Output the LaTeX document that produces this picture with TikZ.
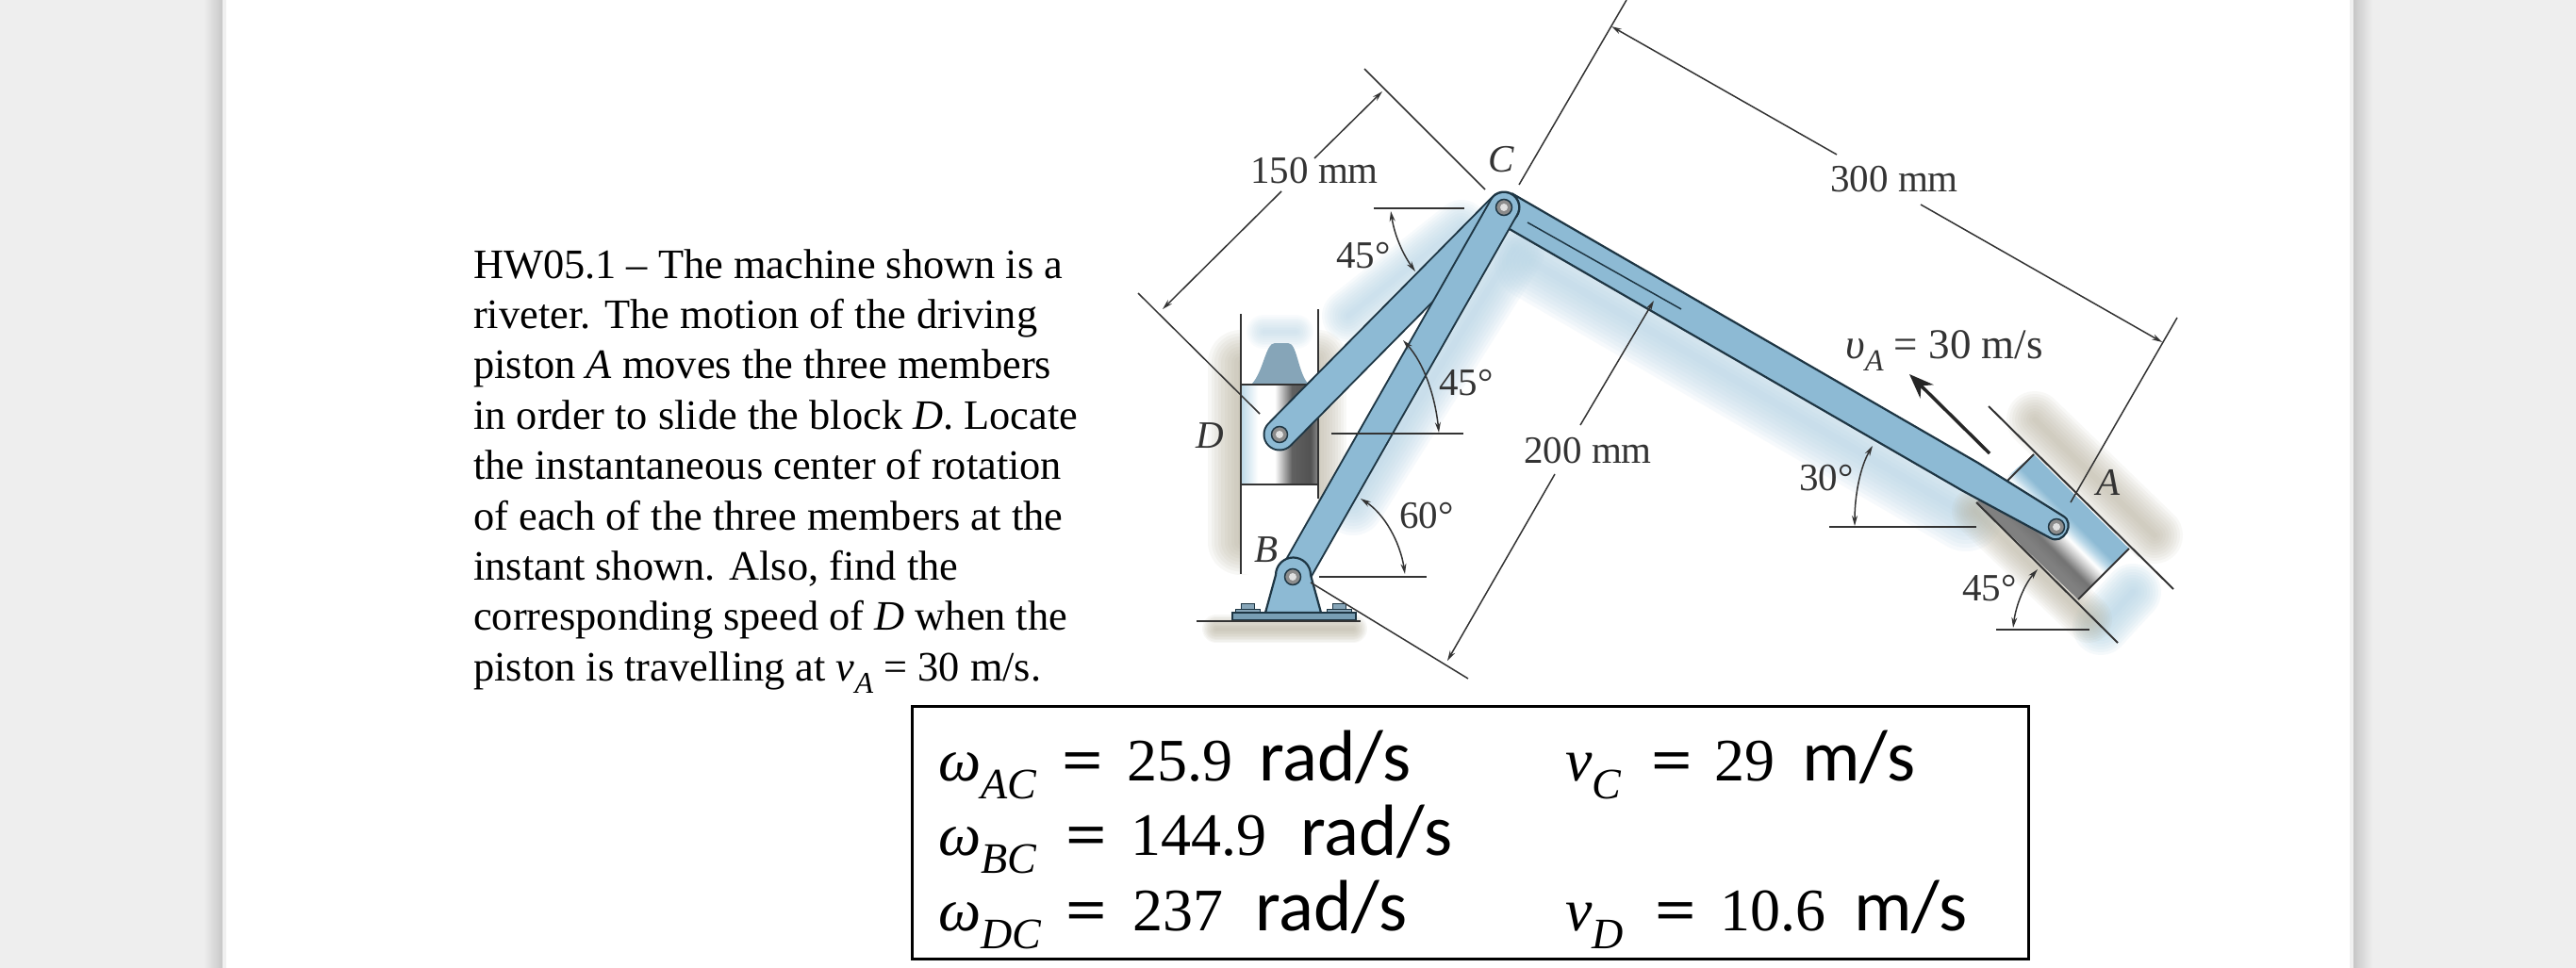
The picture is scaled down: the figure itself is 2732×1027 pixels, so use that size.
\documentclass[tikz,border=0pt]{standalone}
\usepackage{fontspec}
\usepackage{graphicx}
\setmainfont{Liberation Serif}
\newfontfamily\calib{Carlito}
\usetikzlibrary{arrows.meta,calc}
\definecolor{pagegray}{HTML}{EEEEEE}
\definecolor{linkblue}{HTML}{8DBAD4}
\definecolor{linkedge}{HTML}{1E3644}
\definecolor{washblue}{HTML}{BBD8E8}
\definecolor{washtan}{HTML}{B9B39F}
\definecolor{inkgray}{HTML}{333333}
\definecolor{capblue}{HTML}{86A5B8}
\pgfdeclarehorizontalshading{blocksh}{100bp}{
 color(0bp)=(washblue);color(25bp)=(washblue);color(36bp)=(white);color(47bp)=(white);
 color(58bp)=(black!62);color(70bp)=(black!68);color(75bp)=(black!45);color(100bp)=(black!45)}
\pgfdeclarehorizontalshading{pistonsh}{100bp}{
 color(0bp)=(black!50);color(41bp)=(black!50);color(44.6bp)=(black!55);color(48.2bp)=(black!22);
 color(50.9bp)=(white);color(53.6bp)=(washblue);color(56.3bp)=(linkblue);color(100bp)=(linkblue)}
\tikzset{
 x=1pt,y=-1pt,
 dimline/.style={draw=inkgray,line width=1.5pt},
 dimarrow/.style={dimline,{Stealth[length=11pt,width=6pt]}-{Stealth[length=11pt,width=6pt]}},
 dimtip/.style={dimline,-{Stealth[length=11pt,width=6pt]}},
 lab/.style={text=inkgray,font=\fontsize{41}{41}\selectfont,inner sep=0pt},
 labit/.style={lab,font=\fontsize{41}{41}\selectfont\itshape},
 wall/.style={draw=black!80,line width=2pt},
 edgeline/.style={draw=linkedge,line width=2.2pt,line join=round},
 pinout/.style={fill=black!45,draw=linkedge,line width=1.5pt},
 pinin/.style={fill=black!12,draw=none},
 boltpart/.style={fill=capblue,draw=linkedge,line width=1pt},
 anscell/.style={anchor=base west,inner sep=0pt,font=\fontsize{64}{64}\selectfont},
}
\newcommand\softstroke[4]{\foreach \stepw in {.1,.2,.3,.4,.5,.6,.7,.8,.9,1}{\draw[draw=#1,opacity=#2,line width=\stepw*#3,line cap=round,line join=round] #4;}}
\newcommand\lowsub[1]{\raisebox{-.3em}{\scalebox{.72}{\textit{#1}}}}
\newcommand\eqsign{\scalebox{1.2}[1]{\textbf{=}}}
\newcommand\ans[6]{\makebox[#2pt][l]{#1}\makebox[#3pt][l]{\eqsign}\makebox[#4pt][l]{#5}{\calib\fontsize{77}{77}\selectfont #6}}
\begin{document}
\begin{tikzpicture}
\useasboundingbox (0,0) rectangle (2732,1027);
% page
\fill[pagegray] (0,0) rectangle (2732,1027);
\shade[left color=pagegray,right color=black!22] (216,0) rectangle (236,1027);
\shade[left color=black!22,right color=pagegray] (2496,0) rectangle (2516,1027);
\fill[black!6] (236,0) rectangle (240,1027);
\fill[black!6] (2492,0) rectangle (2496,1027);
\fill[white] (240,0) rectangle (2492,1027);
% soft washes
\softstroke{washblue}{.13}{80}{(1625,278) -- (2085,545)}
\softstroke{washblue}{.13}{66}{(1605,265) -- (1435,535)}
\softstroke{washblue}{.11}{56}{(1550,240) -- (1430,335)}
\softstroke{washblue}{.14}{60}{(2262,628) -- (2228,665)}
\softstroke{washtan}{.10}{70}{(1316,385) -- (1316,575)}
\softstroke{washtan}{.09}{60}{(1398,380) -- (1398,520)}
\softstroke{washtan}{.10}{30}{(1290,667) -- (1435,667)}
\softstroke{washtan}{.09}{60}{(2158,445) -- (2285,568)}
\softstroke{washtan}{.09}{50}{(2095,542) -- (2215,657)}
% cylinder D
\fill[white] (1316,333) rectangle (1398,609);
\softstroke{washblue}{.08}{36}{(1340,352) -- (1375,352)}
\path[fill=capblue] (1327,408) .. controls (1340,395) and (1342,364) .. (1352,364)
  -- (1366,364) .. controls (1376,364) and (1376,395) .. (1388,408) -- cycle;
\path[shading=blocksh] (1316,408) rectangle (1398,514);
\draw[wall] (1316,408) -- (1398,408) (1316,514) -- (1398,514);
\draw[wall] (1316,333) -- (1316,609);
\draw[wall] (1398,328) -- (1398,529);
% cylinder A
\fill[white] (2157,482) -- (2258,582) -- (2204,636) -- (2096,533) -- cycle;
\path[shading=pistonsh,shading angle=45] (2157,482) -- (2258,582) -- (2204,636) -- (2096,533) -- cycle;
\draw[wall] (2109,431) -- (2305,625);
\draw[wall] (2096,533) -- (2246,682);
\draw[wall] (2129,510) -- (2157,482);
\draw[wall] (2204,636) -- (2258,582);
% member AC
\path[fill=linkblue,edgeline] (1603.5,205.3) -- (2098.5,491.5) -- (2187.75,547.3)
  .. controls (2202,555) and (2188,579) .. (2174.25,570.7) -- (2081.5,520.7) -- (1586.5,234.7) -- cycle;
\draw[dimline,draw=linkedge] (1620,236) -- (1783,328);
% member DC
\draw[draw=linkedge,line width=35pt,line cap=round] (1357,461) -- (1595,220);
\draw[draw=linkblue,line width=31pt,line cap=round] (1357,461) -- (1595,220);
% member BC
\draw[draw=linkedge,line width=34pt,line cap=round] (1372,612) -- (1595,220);
\draw[draw=linkblue,line width=30pt,line cap=round] (1372,612) -- (1595,220);
% bracket B
\path[fill=linkblue,edgeline] (1342,650) -- (1353,610) arc[start angle=180,end angle=360,radius=18.5]
 -- (1401,650) -- cycle;
\path[boltpart] (1316,640) rectangle (1330,646);
\path[boltpart] (1310,646) rectangle (1336,650);
\path[boltpart] (1413,640) rectangle (1427,646);
\path[boltpart] (1407,646) rectangle (1433,650);
\path[fill=linkblue!85!black,draw=linkedge,line width=1.2pt] (1307,650) rectangle (1438,658);
\draw[wall] (1269,659) -- (1443,659);
% pins
\foreach \px/\py in {1595/220,1357/461,1371/612,2181/559}{
 \path[pinout] (\px,\py) circle[radius=8.5];
 \path[pinin] (\px,\py) circle[radius=4];
}
% 150 mm
\draw[dimline] (1207,311) -- (1336,439);
\draw[dimline] (1447,73) -- (1575,201);
\draw[dimtip] (1359,203) -- (1233,328);
\draw[dimtip] (1394,168) -- (1466,97);
% 300 mm
\draw[dimline] (1725,0) -- (1611,196);
\draw[dimtip] (1948,164) -- (1709,28);
\draw[dimtip] (2037,217) -- (2293,363);
\draw[dimline] (2309,337) -- (2196,533);
% 200 mm
\draw[dimtip] (1676,451) -- (1754,319);
\draw[dimtip] (1649,503) -- (1535,701);
\draw[dimline] (1390,618) -- (1557,720);
% angles
\draw[dimline] (1457,221) -- (1553,221);
\draw[dimarrow] (1475,224) .. controls (1479,250) and (1488,270) .. (1501,288);
\draw[dimline] (1412,460) -- (1552,460);
\draw[dimarrow] (1488,361) .. controls (1510,385) and (1522,420) .. (1526,459);
\draw[dimline] (1399,612) -- (1513,612);
\draw[dimarrow] (1443,529) .. controls (1468,545) and (1485,575) .. (1490,609);
\draw[dimline] (1940,559) -- (2096,559);
\draw[dimarrow] (1986,473) .. controls (1973,495) and (1967,525) .. (1967,558);
\draw[dimline] (2117,668) -- (2216,668);
\draw[dimarrow] (2161,604) .. controls (2147,620) and (2138,642) .. (2135,666);
% velocity arrow
\draw[draw=black!85,line width=3.5pt,-{Stealth[length=26pt,width=20pt]}] (2110,481) -- (2025,397);
% labels
\node[lab] (l150) at (1394,181) {150 mm};
\node[lab] (l300) at (2009,190) {300 mm};
\node[lab] (l200) at (1684,478) {200 mm};
\node[lab] (a45a) at (1446,271) {45°};
\node[lab] (a45b) at (1555,406) {45°};
\node[lab] (a60) at (1513,547) {60°};
\node[lab] (a30) at (1937,507) {30°};
\node[lab] (a45c) at (2110,624) {45°};
\node[labit] (lC) at (1592,169) {C};
\node[labit] (lD) at (1283,462) {D};
\node[labit] (lB) at (1343,583) {B};
\node[labit] (lA) at (2236,512) {A};
\node[lab,font=\fontsize{45}{45}\selectfont] (lv) at (2062,372) {\textit{υ}\lowsub{A} = 30 m/s};
% problem text
\node[anchor=north west,inner sep=0pt,align=left,font=\fontsize{44.4}{53.4}\selectfont] (prob) at (502,264)
 {HW05.1 – The machine shown is a\\
  riveter. The motion of the driving\\
  piston \textit{A} moves the three members\\
  in order to slide the block \textit{D}. Locate\\
  the instantaneous center of rotation\\
  of each of the three members at the\\
  instant shown. Also, find the\\
  corresponding speed of \textit{D} when the\\
  piston is travelling at \textit{v}\lowsub{A} = 30 m/s.};
% answers
\draw[draw=black,line width=3pt] (967,749) rectangle (2151,1017);
\node[anscell] (w1) at (995,828) {\ans{\textit{ω}\lowsub{AC}}{131}{69}{140}{25.9}{rad/s}};
\node[anscell] (w2) at (995,907) {\ans{\textit{ω}\lowsub{BC}}{135}{69}{180}{144.9}{rad/s}};
\node[anscell] (w3) at (995,987) {\ans{\textit{ω}\lowsub{DC}}{135}{71}{130}{237}{rad/s}};
\node[anscell] (v1) at (1660,828) {\ans{\textit{v}\lowsub{C}}{91}{67}{93}{29}{m/s}};
\node[anscell] (v2) at (1660,987) {\ans{\textit{v}\lowsub{D}}{95}{69}{142}{10.6}{m/s}};
\end{tikzpicture}
\end{document}
